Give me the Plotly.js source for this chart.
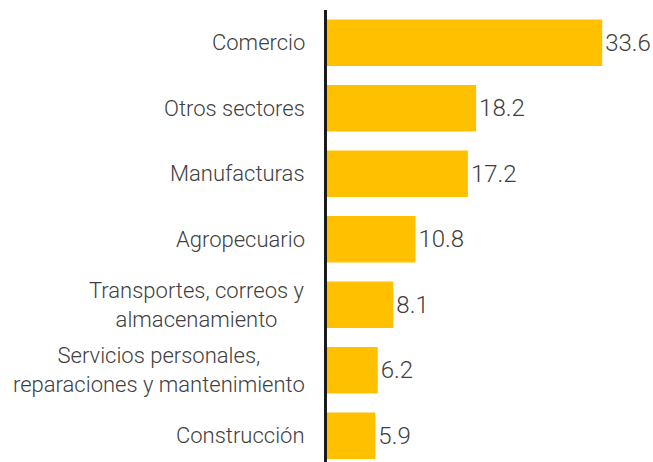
<!DOCTYPE html>
<html>
<head>
<meta charset="utf-8">
<script src="https://cdn.plot.ly/plotly-3.0.1.min.js"></script>
<style>
  html, body { margin: 0; padding: 0; background: #fff; }
  #chart { width: 653px; height: 462px; }
</style>
</head>
<body>
<div id="chart"></div>
<script>
// sectores y participación (%)
var sectores = [
  'Comercio',
  'Otros sectores',
  'Manufacturas',
  'Agropecuario',
  'Transportes, correos y<br>almacenamiento',
  'Servicios personales,<br>reparaciones y mantenimiento',
  'Construcción'
];
var valores = [33.6, 18.2, 17.2, 10.8, 8.1, 6.2, 5.9];
var etiquetas = valores.map(function (v) { return v.toFixed(1); });

var FONT = 'Roboto, Lato, sans-serif';
var GRIS = '#404040';

var cats = sectores.map(function (s, i) { return 'c' + i; });

var etiquetasEje = sectores.map(function (s, i) {
  return {
    x: 0, y: cats[i], xref: 'x', yref: 'y',
    text: s, showarrow: false, xanchor: 'right', yanchor: 'middle',
    align: 'center', xshift: -20,
    font: { family: FONT, size: 22, color: GRIS, weight: 300 }
  };
});

Plotly.newPlot('chart', [{
  type: 'bar',
  orientation: 'h',
  x: valores,
  y: cats,
  text: etiquetas,
  textposition: 'outside',
  cliponaxis: false,
  textfont: { family: FONT, size: 24, color: GRIS, weight: 300 },
  marker: { color: '#FFC000' },
  hoverinfo: 'skip'
}], {
  width: 653, height: 462,
  margin: { l: 327, r: 0, t: 10, b: 0 },
  bargap: 0.29,
  showlegend: false,
  paper_bgcolor: '#fff',
  plot_bgcolor: '#fff',
  xaxis: { range: [0, 39.8], showgrid: false, zeroline: false, showticklabels: false, ticks: '', fixedrange: true },
  yaxis: {
    type: 'category', range: [6.4, -0.5], showticklabels: false, ticks: '',
    showgrid: false, zeroline: false,
    showline: true, linecolor: '#1a1a1a', linewidth: 3, fixedrange: true
  },
  annotations: etiquetasEje
}, { displayModeBar: false, staticPlot: true });
</script>
</body>
</html>
